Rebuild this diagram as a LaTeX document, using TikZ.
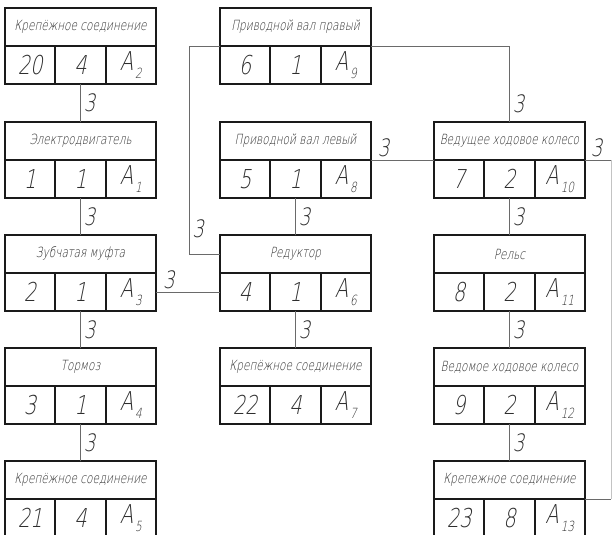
\documentclass[tikz,border=0pt]{standalone}
\usepackage{fontspec}
\setmainfont{DejaVu Sans ExtraLight}[FakeSlant=0.2, FakeStretch=0.75]
\usetikzlibrary{positioning}
\definecolor{lineBlack}{HTML}{1A1A1A}
\definecolor{linkGray}{HTML}{6A6A6A}
\definecolor{textGray}{HTML}{2E2E2E}

\tikzset{
  titlebox/.style={draw=lineBlack, line width=1.8pt, minimum width=151pt, minimum height=38pt,
    inner sep=0pt, outer sep=0pt, font=\fontsize{14}{14}\selectfont, text=textGray},
  cellbox/.style={draw=lineBlack, line width=1.8pt, minimum width=50.33pt, minimum height=38pt,
    inner sep=0pt, outer sep=0pt, font=\fontsize{26}{26}\selectfont, text=textGray},
  link/.style={draw=linkGray, line width=0.9pt},
  lbl/.style={font=\fontsize{24}{24}\selectfont, text=textGray, inner sep=3pt}
}

% A with index
\newcommand{\asub}[1]{A\kern2pt\raisebox{-0.3em}{\fontsize{14}{14}\selectfont #1}}

% one unit: name, position, title, number, quantity, index
\newcommand{\unitblock}[6]{%
  \node[titlebox, anchor=north west] (#1) at (#2) {#3};
  \node[cellbox, anchor=north west] (#1-a) at (#1.south west) {#4};
  \node[cellbox, right=0pt of #1-a] (#1-b) {#5};
  \node[cellbox, right=0pt of #1-b] (#1-c) {\asub{#6}};
}

\begin{document}
\begin{tikzpicture}[x=1pt, y=-1pt]
  \useasboundingbox (0,0) rectangle (613,535);
  \clip (0,0) rectangle (613,535);

  % left column
  \unitblock{L1}{5,8}{Крепёжное соединение}{20}{4}{2}
  \unitblock{L2}{5,122}{Электродвигатель}{1}{1}{1}
  \unitblock{L3}{5,235}{Зубчатая муфта}{2}{1}{3}
  \unitblock{L4}{5,348}{Тормоз}{3}{1}{4}
  \unitblock{L5}{5,461}{Крепёжное соединение}{21}{4}{5}

  % middle column
  \unitblock{M1}{220,8}{Приводной вал правый}{6}{1}{9}
  \unitblock{M2}{220,122}{Приводной вал левый}{5}{1}{8}
  \unitblock{M3}{220,235}{Редуктор}{4}{1}{6}
  \unitblock{M4}{220,348}{Крепёжное соединение}{22}{4}{7}

  % right column
  \unitblock{R1}{434,122}{Ведущее ходовое колесо}{7}{2}{10}
  \unitblock{R2}{434,235}{Рельс}{8}{2}{11}
  \unitblock{R3}{434,348}{Ведомое ходовое колесо}{9}{2}{12}
  \unitblock{R4}{434,461}{Крепежное соединение}{23}{8}{13}

  % vertical links
  \draw[link] (L1-b.south) -- node[lbl, right] {3} (L2.north);
  \draw[link] (L2-b.south) -- node[lbl, right] {3} (L3.north);
  \draw[link] (L3-b.south) -- node[lbl, right] {3} (L4.north);
  \draw[link] (L4-b.south) -- node[lbl, right] {3} (L5.north);
  \draw[link] (M2-b.south) -- node[lbl, right] {3} (M3.north);
  \draw[link] (M3-b.south) -- node[lbl, right] {3} (M4.north);
  \draw[link] (R1-b.south) -- node[lbl, right] {3} (R2.north);
  \draw[link] (R2-b.south) -- node[lbl, right] {3} (R3.north);
  \draw[link] (R3-b.south) -- node[lbl, right] {3} (R4.north);

  % side links
  \draw[link] (M1.south east) -| node[lbl, right, pos=0.88] {3} (R1.north);
  \coordinate (bend) at ([xshift=-31pt]M1.south west);
  \draw[link] (M1.south west) -- (bend) |- node[lbl, right, pos=0.44] {3} (M3.west);
  \draw[link] (L3-c.east) -- node[lbl, above, pos=0.2] {3} (M3-a.west);
  \draw[link] (M2.south east) -- node[lbl, above, pos=0.2] {3} (R1.south west);
  \draw[link] (R1.south east) -- ++(26,0) coordinate (rtop) node[lbl, above, pos=0.45] {3};
  \coordinate (rbot) at (R4.south east -| rtop);
  \draw[link] (R4.south east) -- (rbot);
  \draw[link, draw=linkGray!40] (rtop) -- (rbot);
\end{tikzpicture}
\end{document}
